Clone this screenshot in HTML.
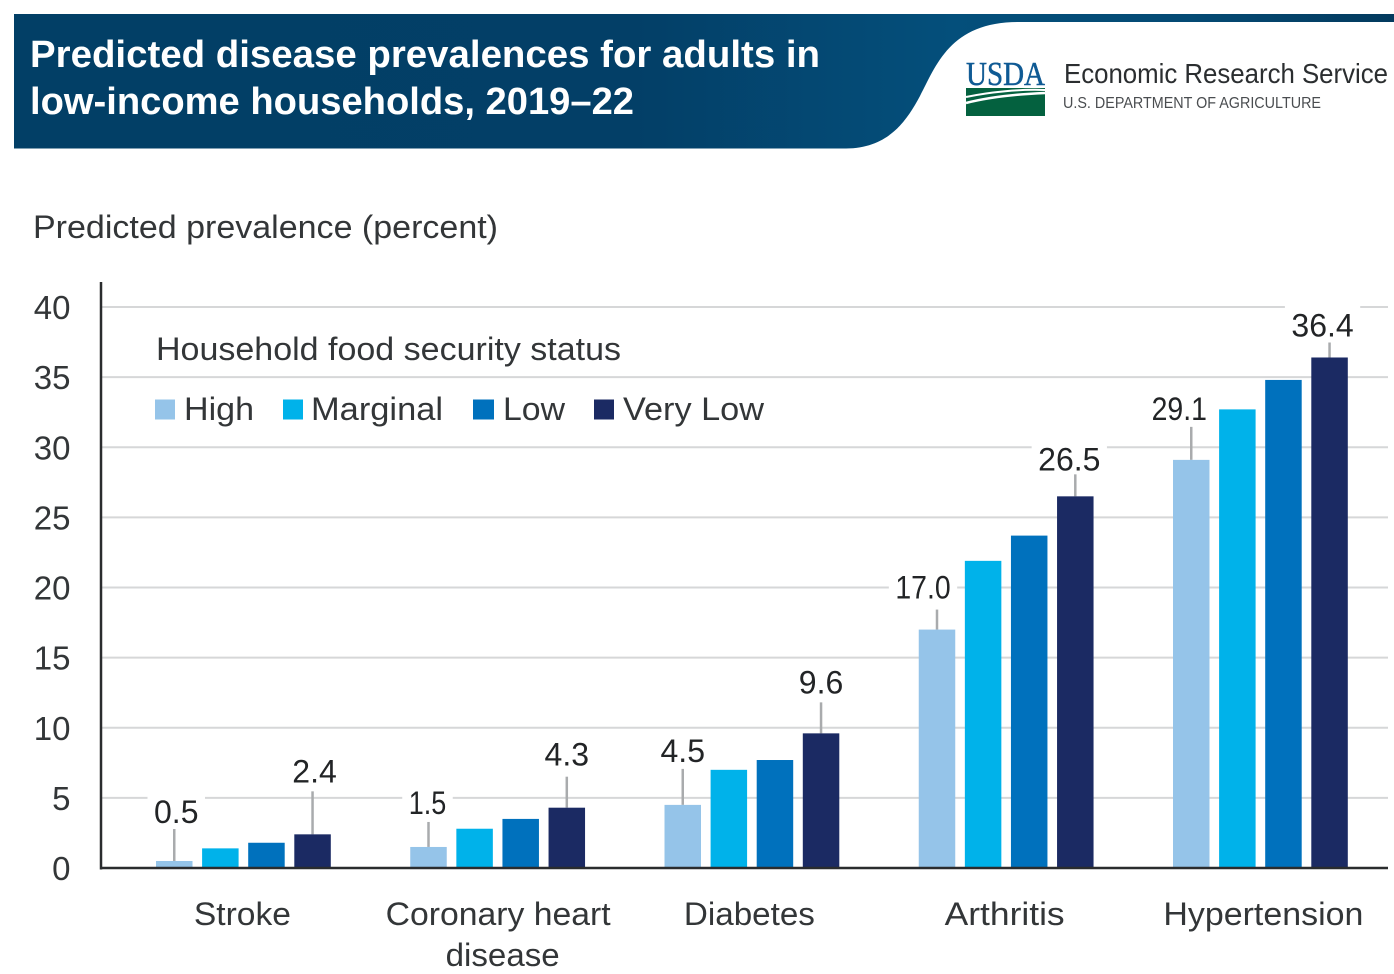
<!DOCTYPE html>
<html lang="en">
<head>
<meta charset="utf-8">
<title>Predicted disease prevalences for adults in low-income households, 2019–22</title>
<style>
html,body{margin:0;padding:0;background:#fff;width:1394px;height:974px;overflow:hidden}
svg{display:block;font-family:"Liberation Sans",sans-serif;filter:blur(0.35px)}
.t{fill:#333638;font-size:32px}
.y{fill:#333638;font-size:33px}
.v{fill:#222426;font-size:32px}
</style>
</head>
<body>
<svg id="chart" xmlns="http://www.w3.org/2000/svg" width="1394" height="974" viewBox="0 0 1394 974">
  <defs>
    <linearGradient id="bandGrad" x1="0" y1="0" x2="1" y2="0">
      <stop offset="0" stop-color="#023f66"/>
      <stop offset="0.45" stop-color="#033f67"/>
      <stop offset="0.68" stop-color="#044f7b"/>
      <stop offset="0.85" stop-color="#044a74"/>
      <stop offset="1" stop-color="#033a5e"/>
    </linearGradient>
  </defs>
  <rect x="14" y="14" width="1380" height="134.5" fill="url(#bandGrad)"/>
  <path d="M846 148.5 C888 148 906 122 920 96 C936 66 950 22 1018 22 L1394 22 L1394 148.5 Z" fill="#fff"/>
  <text x="30" y="67" font-size="38" font-weight="700" fill="#fff" textLength="790" lengthAdjust="spacingAndGlyphs">Predicted disease prevalences for adults in</text>
  <text x="30" y="114" font-size="38" font-weight="700" fill="#fff" textLength="604" lengthAdjust="spacingAndGlyphs">low-income households, 2019–22</text>
  <g>
    <text x="966" y="85" font-family="'Liberation Serif',serif" font-size="34" fill="#0f5a94" stroke="#0f5a94" stroke-width="0.5" textLength="79" lengthAdjust="spacingAndGlyphs">USDA</text>
    <rect x="966" y="88" width="79" height="28" fill="#04613f"/>
    <path d="M966 97 C990 92 1020 89 1045 90" fill="none" stroke="#fff" stroke-width="2"/>
    <path d="M966 103 C990 97 1020 94 1045 93" fill="none" stroke="#fff" stroke-width="2.5"/>
  </g>
  <text x="1064" y="83" font-size="28" fill="#2b2e30" textLength="324" lengthAdjust="spacingAndGlyphs">Economic Research Service</text>
  <text x="1063" y="108" font-size="16" fill="#4a4d50" textLength="258" lengthAdjust="spacingAndGlyphs">U.S. DEPARTMENT OF AGRICULTURE</text>
  <text class="t" x="33" y="238" textLength="465" lengthAdjust="spacingAndGlyphs">Predicted prevalence (percent)</text>
  <g id="grid"></g>
  <g id="labelBacks"></g>
  <g id="leaders"></g>
  <g id="bars"></g>
  <g id="values"></g>
  <g id="yticks"></g>
  <g id="xlabels"></g>
  <line x1="101" y1="282" x2="101" y2="869.5" stroke="#2a2c2e" stroke-width="2.5"/>
  <line x1="100" y1="868" x2="1388" y2="868" stroke="#2a2c2e" stroke-width="2.5"/>
  <g>
    <text class="t" x="156" y="360" textLength="465" lengthAdjust="spacingAndGlyphs">Household food security status</text>
    <g>
      <rect x="155" y="399.5" width="20" height="20" fill="#95c4e9"/>
      <text class="t" x="184" y="420" textLength="70" lengthAdjust="spacingAndGlyphs">High</text>
    </g>
    <g>
      <rect x="283" y="399.5" width="20" height="20" fill="#00b2ea"/>
      <text class="t" x="311" y="420" textLength="132" lengthAdjust="spacingAndGlyphs">Marginal</text>
    </g>
    <g>
      <rect x="473" y="399.5" width="21" height="20" fill="#0071bd"/>
      <text class="t" x="503" y="420" textLength="62" lengthAdjust="spacingAndGlyphs">Low</text>
    </g>
    <g>
      <rect x="594" y="399.5" width="20" height="20" fill="#1b2a63"/>
      <text class="t" x="623" y="420" textLength="141" lengthAdjust="spacingAndGlyphs">Very Low</text>
    </g>
  </g>
</svg>
<script>
const categories = ["Stroke", "Coronary heart disease", "Diabetes", "Arthritis", "Hypertension"];
const seriesNames = ["High", "Marginal", "Low", "Very Low"];
const highValues = [0.5, 1.5, 4.5, 17.0, 29.1];
const marginalValues = [1.4, 2.8, 7.0, 21.9, 32.7];
const lowValues = [1.8, 3.5, 7.7, 23.7, 34.8];
const veryLowValues = [2.4, 4.3, 9.6, 26.5, 36.4];
const yTicks = [0, 5, 10, 15, 20, 25, 30, 35, 40];

const seriesValues = [highValues, marginalValues, lowValues, veryLowValues];
const seriesColors = ["#95c4e9", "#00b2ea", "#0071bd", "#1b2a63"];
const NS = "http://www.w3.org/2000/svg";

function yScale(v) { return 868 - v * (561 / 40); }
function groupX(c) { return 156 + c * 254.25; }
function barX(c, s) { return groupX(c) + s * 46.1; }
const BAR_W = 36.5;

function make(tag, attrs, parent, text) {
  const el = document.createElementNS(NS, tag);
  for (const k in attrs) el.setAttribute(k, attrs[k]);
  if (text !== undefined) el.textContent = text;
  parent.appendChild(el);
  return el;
}
function slug(s) { return s.toLowerCase().replace(/[^a-z0-9]+/g, "-"); }

const gridG = document.getElementById("grid");
const tickG = document.getElementById("yticks");
yTicks.forEach(function (t) {
  if (t > 0) {
    const line = make("line", {x1: 101, x2: 1388, y1: yScale(t), y2: yScale(t), stroke: "#d6d7d8", "stroke-width": 2}, gridG);
    
    
  }
  const label = make("text", {x: 70.5, y: yScale(t) + 12, "text-anchor": "end", class: "y"}, tickG, String(t));
  
  
});

const barG = document.getElementById("bars");
seriesValues.forEach(function (vals, s) {
  vals.forEach(function (v, c) {
    const bar = make("rect", {x: barX(c, s), y: yScale(v), width: BAR_W, height: yScale(0) - yScale(v), fill: seriesColors[s]}, barG);
    
    
  });
});

/* Annotation placement per group: leader length and label nudge (px), applied to High and Very Low. */
function annotationLayout(c, s) {
  const high = [[32, 2, 1], [25, -1, -1], [36, 0, 0], [20, -14, -4], [33, -12, 0]];
  const top = [[43, 2, -2], [31, 0, -4], [31, 0, -2], [22, -6, 3], [15, -7, 1]];
  const r = (s === 0 ? high : top)[c];
  return {len: r[0], dx: r[1], dy: r[2]};
}
/* Label ink width: reference face sets the digit 1 narrower than the other figures. */
function labelWidth(str) {
  let w = 0;
  for (const ch of str) w += ch === "." ? 8.9 : ch === "1" ? 10.8 : 17.8;
  return w;
}
const leaderG = document.getElementById("leaders");
const valueG = document.getElementById("values");
const backG = document.getElementById("labelBacks");
[0, 3].forEach(function (s) {
  seriesValues[s].forEach(function (v, c) {
    const a = annotationLayout(c, s);
    const cx = barX(c, s) + BAR_W / 2;
    const top = yScale(v) - a.len;
    const leader = make("line", {x1: cx, x2: cx, y1: top, y2: yScale(v), stroke: "#a9abad", "stroke-width": 2.5}, leaderG);
    
    
    const lx = cx + a.dx;
    const base = top - 7 + a.dy;
    const str = v.toFixed(1);
    const tw = labelWidth(str);
    const w = tw + 13;
    const back = make("rect", {x: lx - w / 2, y: base - 32, width: w, height: 40, fill: "#fff"}, backG);
    
    
    const label = make("text", {x: lx, y: base, "text-anchor": "middle", class: "v", textLength: tw, lengthAdjust: "spacingAndGlyphs"}, valueG, str);
    
    
  });
});

/* Category labels sit below each group with small per-group nudges; long names wrap after the second word. */
function categoryLayout(c, line) {
  const nudges = [[-1, 97], [0.5, 225], [-2.5, 131], [-1.5, 120], [3, 200]];
  if (line === 1) return {dx: 5, len: 114};
  return {dx: nudges[c][0], len: nudges[c][1]};
}
const xG = document.getElementById("xlabels");
categories.forEach(function (name, c) {
  const cx = groupX(c) + (46.1 * 3 + BAR_W) / 2;
  const words = name.split(" ");
  const lines = words.length > 2 ? [words.slice(0, 2).join(" "), words.slice(2).join(" ")] : [name];
  lines.forEach(function (ln, i) {
    const lay = categoryLayout(c, i);
    const label = make("text", {x: cx + lay.dx, y: 925 + i * 41, "text-anchor": "middle", class: "t", textLength: lay.len, lengthAdjust: "spacingAndGlyphs"}, xG, ln);
    
    
  });
});
</script>
</body>
</html>
